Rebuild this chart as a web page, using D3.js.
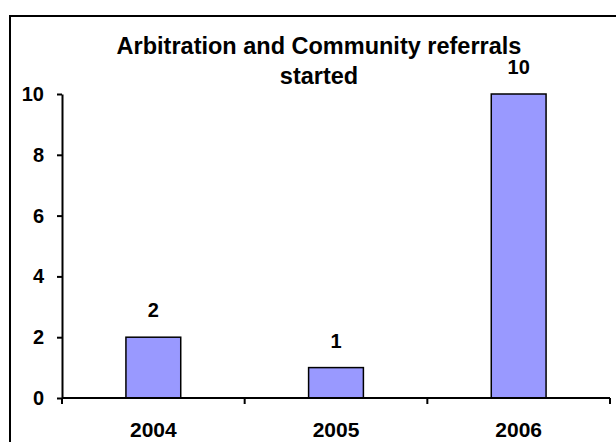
<!DOCTYPE html>
<html>
<head>
<meta charset="utf-8">
<script src="https://cdn.jsdelivr.net/npm/d3@7"></script>
<style>
  html, body { margin: 0; padding: 0; background: #fff; }
  svg { display: block; }
  text { font-family: "Liberation Sans", Arial, sans-serif; font-weight: bold; fill: #000; }
</style>
</head>
<body>
<script>
// Referrals started per year
const years = ["2004", "2005", "2006"];
const referrals = [2, 1, 10];
const yTicks = [0, 2, 4, 6, 8, 10];
const titleLines = ["Arbitration and Community referrals", "started"];

const W = 616, H = 442;
const plot = { left: 62, right: 610, top: 94, bottom: 398 };
const labelSize = "20px";

const svg = d3.select("body").append("svg")
  .attr("width", W).attr("height", H);

// chart-area frame
svg.append("rect")
  .attr("x", 10).attr("y", 16)
  .attr("width", 616).attr("height", 440)
  .attr("fill", "none").attr("stroke", "#000").attr("stroke-width", 2);

const x = d3.scaleBand().domain(years).range([plot.left, plot.right]).paddingInner(0.7).paddingOuter(0.35);
const xTicks = d3.scaleBand().domain(years).range([plot.left, plot.right]);
const y = d3.scaleLinear().domain([0, 10]).range([plot.bottom, plot.top]);

// bars
svg.append("g").selectAll("rect").data(years).join("rect")
  .attr("x", d => x(d))
  .attr("y", (d, i) => y(referrals[i]))
  .attr("width", x.bandwidth())
  .attr("height", (d, i) => y(0) - y(referrals[i]))
  .attr("fill", "#9999ff")
  .attr("stroke", "#000").attr("stroke-width", 1.5);

// value labels
svg.append("g").selectAll("text").data(years).join("text")
  .attr("x", d => x(d) + x.bandwidth() / 2)
  .attr("y", (d, i) => y(referrals[i]) - 20)
  .attr("text-anchor", "middle")
  .style("font-size", labelSize)
  .text((d, i) => referrals[i]);

// y axis
const yAxis = svg.append("g")
  .attr("transform", `translate(${plot.left},0)`)
  .call(d3.axisLeft(y).tickValues(yTicks).tickSize(5).tickSizeOuter(0).tickPadding(13));
yAxis.select(".domain").attr("stroke-width", 2);
yAxis.selectAll(".tick line").attr("stroke-width", 2);
yAxis.selectAll("text")
  .style("font-size", labelSize)
  .style("font-family", "Liberation Sans, Arial, sans-serif")
  .style("font-weight", "bold");

// x axis with ticks between categories
const xAxisG = svg.append("g").attr("transform", `translate(0,${plot.bottom})`);
xAxisG.append("line")
  .attr("x1", plot.left).attr("x2", plot.right)
  .attr("stroke", "#000").attr("stroke-width", 2);
const bounds = years.map(d => xTicks(d)).concat([plot.right]);
xAxisG.selectAll("line.tk").data(bounds).join("line")
  .attr("class", "tk")
  .attr("x1", d => d).attr("x2", d => d)
  .attr("y1", 0).attr("y2", 6)
  .attr("stroke", "#000").attr("stroke-width", 2);
xAxisG.selectAll("text").data(years).join("text")
  .attr("x", d => xTicks(d) + xTicks.bandwidth() / 2)
  .attr("y", 39)
  .attr("text-anchor", "middle")
  .style("font-size", "21px")
  .text(d => d);

// title
svg.append("text")
  .attr("x", 319).attr("y", 54)
  .attr("text-anchor", "middle")
  .style("font-size", "23.5px")
  .selectAll("tspan").data(titleLines).join("tspan")
  .attr("x", 319)
  .attr("dy", (d, i) => i === 0 ? 0 : 30)
  .text(d => d);
</script>
</body>
</html>
